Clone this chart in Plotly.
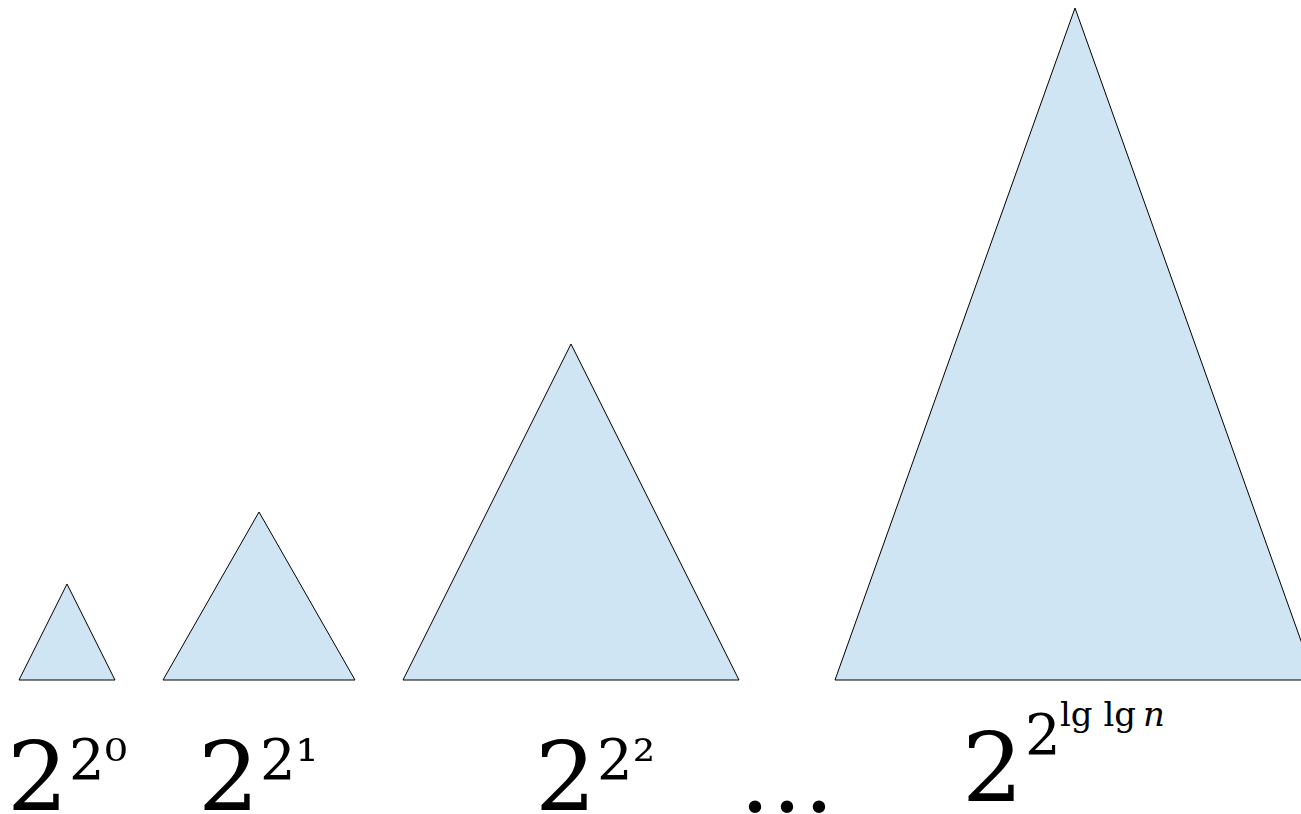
import plotly.graph_objects as go

# Triangle data (in axis units)
tri_left = [0, 3, 8, 17]
tri_width = [2, 4, 7, 10]
tri_height = [2, 3.5, 7, 14]

# Labels
base_labels = ["2", "2", "2", "2"]
exp_labels = ["2⁰", "2¹", "2²", "2"]
top_exp = "lg lg\u2009<i>n</i>"
dots_label = "…"

FILL = "#cfe5f3"
FONT = "DejaVu Serif"
W, H = 1301, 814

fig = go.Figure()
for l, w, h in zip(tri_left, tri_width, tri_height):
    fig.add_trace(go.Scatter(
        x=[l, l + w / 2, l + w, l],
        y=[0, h, 0, 0],
        mode="lines",
        fill="toself",
        fillcolor=FILL,
        line=dict(color="black", width=1),
        hoverinfo="skip",
        showlegend=False,
    ))

def px_ann(text, cx, baseline, fs):
    # place text so that glyph centre is cx and baseline at `baseline` (pixels)
    top = baseline - 0.928 * fs
    fig.add_annotation(
        text=text, xref="paper", yref="paper",
        x=cx / W, y=1 - top / H,
        xanchor="center", yanchor="top",
        showarrow=False, borderpad=0,
        font=dict(family=FONT, size=fs, color="black"),
    )

base_cx = [37, 228.5, 565, 992.5]
base_bl = [809, 809, 809, 800]
exp_cx = [98, 289, 626, 1042.5]
exp_bl = [778, 778, 778, 753]
for t, cx, bl in zip(base_labels, base_cx, base_bl):
    px_ann(t, cx, bl, 96)
for t, cx, bl in zip(exp_labels, exp_cx, exp_bl):
    px_ann(t, cx, bl, 56)
px_ann(top_exp, 1112, 725, 34)
px_ann(dots_label, 787, 811, 96)

fig.update_layout(
    width=W, height=H,
    margin=dict(l=0, r=0, t=0, b=0),
    paper_bgcolor="white", plot_bgcolor="white",
    showlegend=False,
    xaxis=dict(visible=False, range=[-19 / 48, (W - 19) / 48], fixedrange=True),
    yaxis=dict(visible=False, range=[(680 - H) / 48, 680 / 48], fixedrange=True),
)

fig.write_html("out.html", config={"displayModeBar": False},
               post_script="document.body.style.margin='0';document.body.style.overflow='hidden';")
